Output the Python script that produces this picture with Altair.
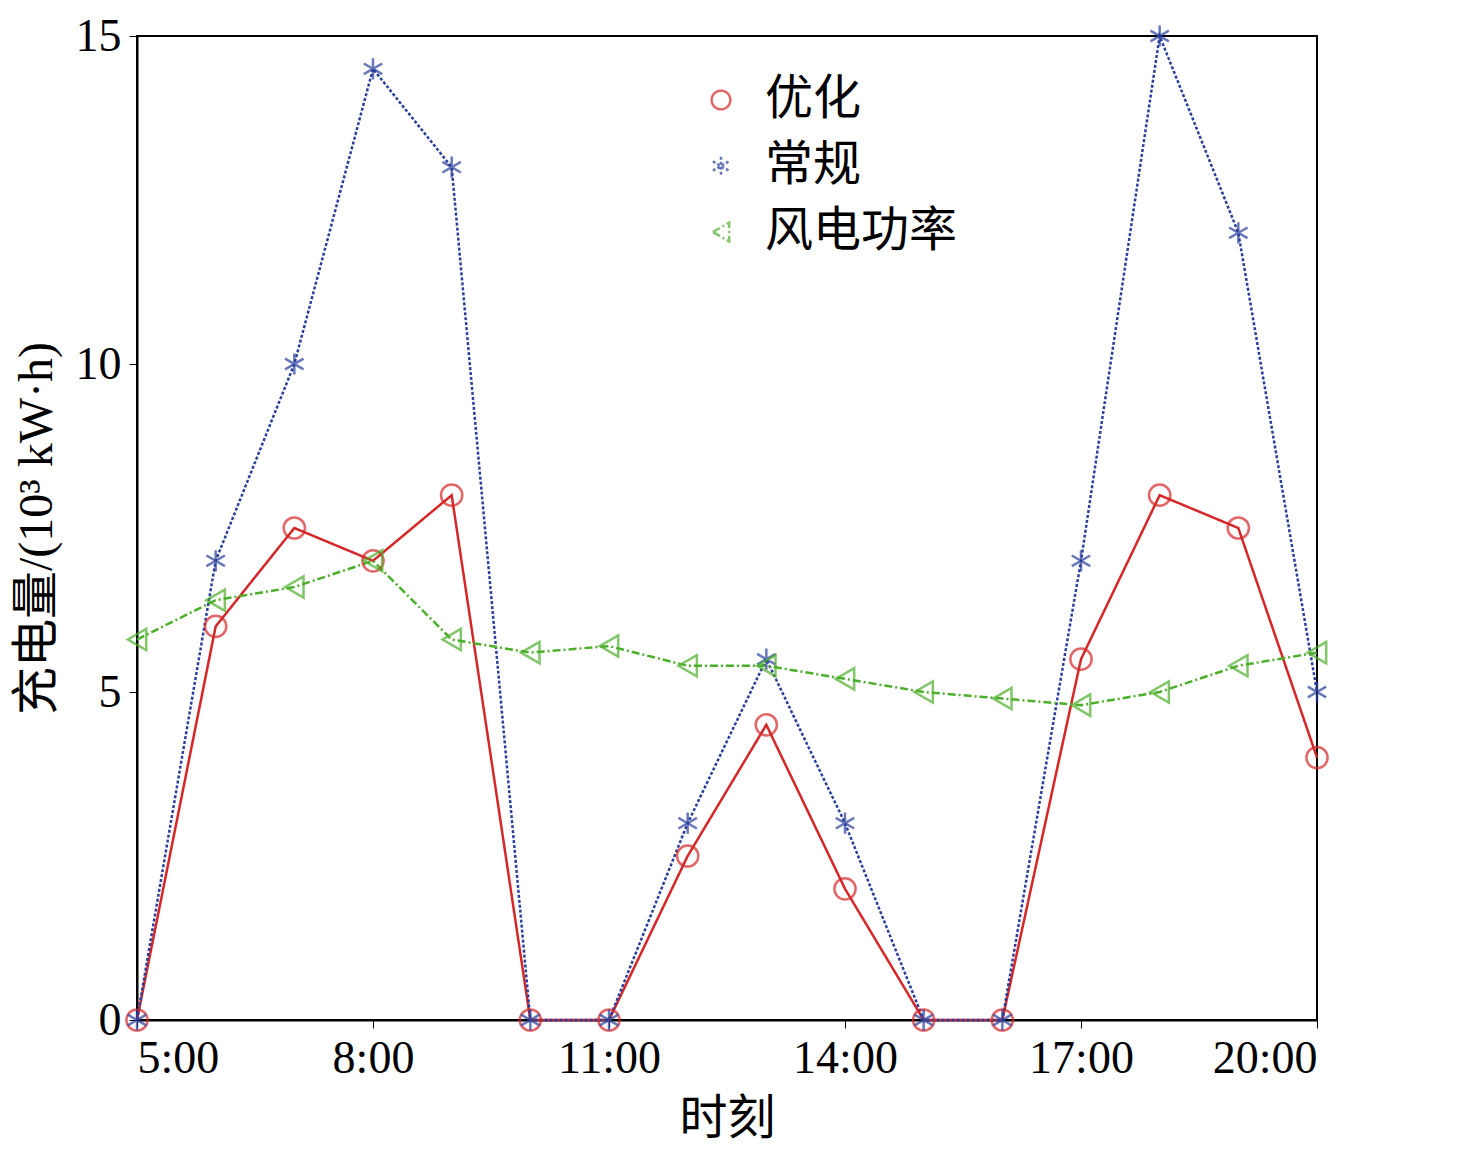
import altair as alt
import pandas as pd

hours = list(range(5, 21))
optimized = [0, 6, 7.5, 7, 8, 0, 0, 2.5, 4.5, 2, 0, 0, 5.5, 8, 7.5, 4]
conventional = [0, 7, 10, 14.5, 13, 0, 0, 3, 5.5, 3, 0, 0, 7, 15, 12, 5]
wind = [5.8, 6.4, 6.6, 7, 5.8, 5.6, 5.7, 5.4, 5.4, 5.2, 5.0, 4.9, 4.8, 5.0, 5.4, 5.6]
series_names = ['优化', '常规', '风电功率']
tick_hours = [5, 8, 11, 14, 17, 20]

rows = []
for name, vals in zip(series_names, [optimized, conventional, wind]):
    for h, v in zip(hours, vals):
        rows.append({'hour': h, 'value': v, 'series': name})
df = pd.DataFrame(rows)

FONT = 'Liberation Serif, Noto Sans CJK SC'
asterisk = 'M0,-1L0,1M-0.87,-0.5L0.87,0.5M-0.87,0.5L0.87,-0.5'

color = alt.Color('series:N', scale=alt.Scale(domain=series_names, range=['#d62728', '#2a3f9c', '#4caf2a']),
                  legend=alt.Legend(title=None, orient='none', legendX=560, legendY=40,
                                    labelFont=FONT, labelFontSize=48, symbolSize=350, labelLimit=400,
                                    symbolStrokeWidth=2.5, rowPadding=18, labelOffset=20,
                                    labelColor='black'))
shape = alt.Shape('series:N', scale=alt.Scale(domain=series_names, range=['circle', asterisk, 'triangle-left']))
dash = alt.StrokeDash('series:N', scale=alt.Scale(domain=series_names, range=[[1, 0], [3, 2], [8, 3, 2, 3]]))

x = alt.X('hour:Q', scale=alt.Scale(domain=[5, 20], nice=False),
          axis=alt.Axis(values=tick_hours, labelExpr="datum.value + ':00'", title='时刻', grid=False))
y = alt.Y('value:Q', scale=alt.Scale(domain=[0, 15], nice=False),
          axis=alt.Axis(values=[0, 5, 10, 15], title='充电量/(10³ kW·h)', grid=False))

base = alt.Chart(df)
lines = base.mark_line(strokeWidth=2.5).encode(x=x, y=y, color=color, strokeDash=dash)
points = base.mark_point(size=450, filled=False, strokeWidth=2.5).encode(x=x, y=y, color=color, shape=shape)

chart = alt.layer(lines, points).properties(
    width=1180, height=984, background='white'
).configure_view(
    stroke='black', strokeWidth=2
).configure_axis(
    labelFont=FONT, titleFont=FONT, labelFontSize=46, titleFontSize=48,
    labelColor='black', titleColor='black', titleFontWeight='normal',
    domainColor='black', tickColor='black', tickSize=8, domainWidth=2, labelPadding=8,
    titlePadding=14
)

chart.save("out.html", embed_options={"renderer": "svg", "actions": False})
